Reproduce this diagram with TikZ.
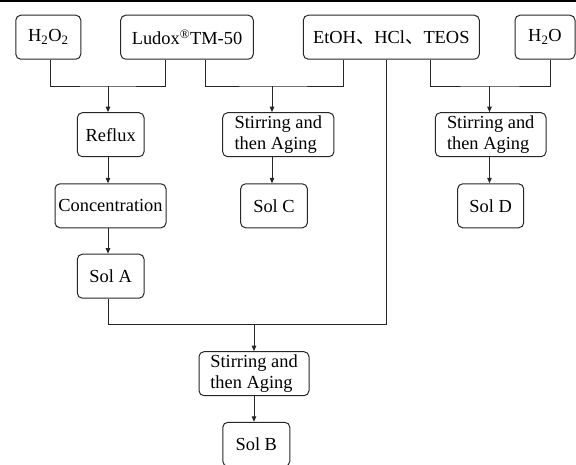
\documentclass[tikz,border=0pt]{standalone}
\usepackage{fontspec}
\setmainfont{Liberation Serif}
\newfontfamily\cjk{Noto Sans CJK SC}
\usetikzlibrary{arrows.meta}
\begin{document}
\begin{tikzpicture}[x=1pt,y=-1pt,
  box/.style={draw=black!85, line width=1pt, rounded corners=5pt, minimum height=44pt,
    inner sep=0pt, align=left, font=\fontsize{18.4}{21.5}\selectfont},
  conn/.style={draw=black!85, line width=1pt},
  arr/.style={conn, -{Triangle[length=5.5pt,width=4.5pt]}}]
\useasboundingbox (0,0) rectangle (576,464);
\begin{scope}
\clip (0,0) rectangle (576,464);
\fill[black] (0,0) rectangle (576,2);
% top row
\node[box, minimum width=65pt] (h2o2) at (48.3,37.2) {H\textsubscript{2}O\textsubscript{2}};
\node[box, minimum width=132.6pt] (ludox) at (187,37.2) {Ludox\textsuperscript{®}TM-50};
\node[box, minimum width=176pt] (etoh) at (391.3,37.2) {EtOH{\cjk 、}HCl{\cjk 、}TEOS};
\node[box, minimum width=60pt] (h2o) at (545,37.2) {H\textsubscript{2}O};
% second row
\node[box, minimum width=66.7pt] (reflux) at (110.7,134.7) {Reflux};
\node[box, minimum width=111.3pt] (stirC) at (278.3,134.7) {Stirring and\\then Aging};
\node[box, minimum width=110.7pt] (stirD) at (490.7,134.7) {Stirring and\\then Aging};
% third row
\node[box, minimum width=111pt] (conc) at (110.5,205.8) {Concentration};
\node[box, minimum width=66.7pt] (solC) at (274,205.8) {Sol C};
\node[box, minimum width=66pt] (solD) at (490.7,205.8) {Sol D};
% fourth row
\node[box, minimum width=66.7pt] (solA) at (110.7,276.2) {Sol A};
% bottom
\node[box, minimum width=110pt] (stirB) at (254,373.7) {Stirring and\\then Aging};
\node[box, minimum width=67pt] (solB) at (256.3,444.3) {Sol B};
% junctions
\coordinate (j1) at (108,86);
\coordinate (j2) at (272,86);
\coordinate (j3) at (489.5,86);
\coordinate (j4) at (254,324.5);
% connectors
\draw[conn] ([xshift=2.4pt]h2o2.south) |- (j1) -| ([xshift=-21.3pt]ludox.south);
\draw[conn] ([xshift=18pt]ludox.south) |- (j2) -| ([xshift=-48pt]etoh.south);
\draw[conn] ([xshift=39pt]etoh.south) |- (j3) -| ([xshift=5.3pt]h2o.south);
\draw[arr] (j1) -- (reflux.north -| j1);
\draw[arr] (reflux.south -| j1) -- (conc.north -| j1);
\draw[arr] (conc.south -| j1) -- (solA.north -| j1);
\draw[arr] (j2) -- (stirC.north -| j2);
\draw[arr] (stirC.south -| j2) -- (solC.north -| j2);
\draw[arr] (j3) -- (stirD.north -| j3);
\draw[arr] (stirD.south -| j3) -- (solD.north -| j3);
\draw[conn] (solA.south -| j1) |- (j4) -| ([xshift=-4.6pt]etoh.south);
\draw[arr] (j4) -- (stirB.north);
\draw[arr] (stirB.south) -- (solB.north -| stirB.south);
\end{scope}
\end{tikzpicture}
\end{document}
